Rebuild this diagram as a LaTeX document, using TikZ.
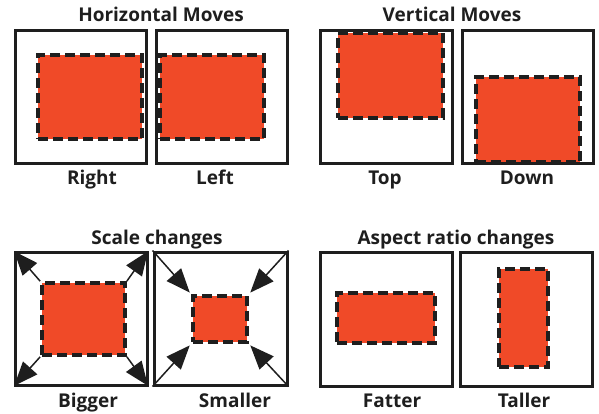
\documentclass[tikz,border=0pt]{standalone}
\usepackage{fontspec}
\setmainfont{Open Sans}
\usetikzlibrary{arrows.meta}
\definecolor{boxred}{HTML}{F04A28}
\definecolor{ink}{HTML}{1E1E1E}
\tikzset{
  frame/.style={draw=ink, line width=3pt, inner sep=0pt, fill=white},
  redbox/.style={draw=ink, fill=boxred, line width=3.8pt, dash pattern=on 10pt off 5pt, inner sep=0pt},
  ttl/.style={font=\bfseries\fontsize{19}{22}\selectfont, text=ink, anchor=base, inner sep=0pt},
  lbl/.style={font=\bfseries\fontsize{19}{22}\selectfont, text=ink, anchor=base, inner sep=0pt},
  arr/.style={draw=ink, line width=1.5pt, -{Triangle[length=24pt,width=19pt]}}
}
\begin{document}
\begin{tikzpicture}[x=1pt,y=-1pt]
\useasboundingbox (0,0) rectangle (599,414);
% top row frames
\node[frame, minimum width=131pt, minimum height=133pt] (fR) at (80.5,97.5) {};
\node[frame, minimum width=131pt, minimum height=133pt] (fL) at (221.5,97.5) {};
\node[frame, minimum width=132pt, minimum height=133pt] (fT) at (386,97.5) {};
\node[frame, minimum width=131pt, minimum height=133pt] (fD) at (527.5,97.5) {};
% bottom row frames
\node[frame, minimum width=132pt, minimum height=133pt] (fB) at (81,318.5) {};
\node[frame, minimum width=133pt, minimum height=133pt] (fS) at (220.5,318.5) {};
\node[frame, minimum width=132pt, minimum height=134pt] (fF) at (386,319) {};
\node[frame, minimum width=132pt, minimum height=134pt] (fW) at (526,319) {};
% red boxes
\node[redbox, minimum width=104pt, minimum height=84pt] (rR) at (90,97) {};
\node[redbox, minimum width=104pt, minimum height=84pt] (rL) at (212,97) {};
\node[redbox, minimum width=105pt, minimum height=85pt] (rT) at (390.5,75.5) {};
\node[redbox, minimum width=104pt, minimum height=85pt] (rD) at (528,119.5) {};
\node[redbox, minimum width=83pt, minimum height=72pt] (rB) at (83.5,319) {};
\node[redbox, minimum width=54pt, minimum height=46pt] (rS) at (220,319) {};
\node[redbox, minimum width=98pt, minimum height=50pt] (rF) at (386,318) {};
\node[redbox, minimum width=49pt, minimum height=98pt] (rW) at (523.5,318) {};
% arrows bigger
\draw[arr, shorten >=1pt] (rB.north west) -- (fB.north west);
\draw[arr, shorten >=1pt] (rB.north east) -- (fB.north east);
\draw[arr, shorten >=1pt] (rB.south west) -- (fB.south west);
\draw[arr, shorten >=1pt] (rB.south east) -- (fB.south east);
% arrows smaller
\draw[arr, shorten >=2pt] (fS.north west) -- (rS.north west);
\draw[arr, shorten >=2pt] (fS.north east) -- (rS.north east);
\draw[arr, shorten >=2pt] (fS.south west) -- (rS.south west);
\draw[arr, shorten >=2pt] (fS.south east) -- (rS.south east);
% titles
\node[ttl] (tH) at (161,22) {Horizontal Moves};
\node[ttl] (tV) at (452,22) {Vertical Moves};
\node[ttl] (tS) at (157,244) {Scale changes};
\node[ttl] (tA) at (456,244) {Aspect ratio changes};
% labels
\node[lbl] (lR) at (92,185) {Right};
\node[lbl] (lL) at (215,185) {Left};
\node[lbl] (lT) at (385,185) {Top};
\node[lbl] (lD) at (527,185) {Down};
\node[lbl] (lB) at (88,407) {Bigger};
\node[lbl] (lS) at (235,407) {Smaller};
\node[lbl] (lF) at (392,407) {Fatter};
\node[lbl] (lW) at (524,407) {Taller};
\end{tikzpicture}
\end{document}
